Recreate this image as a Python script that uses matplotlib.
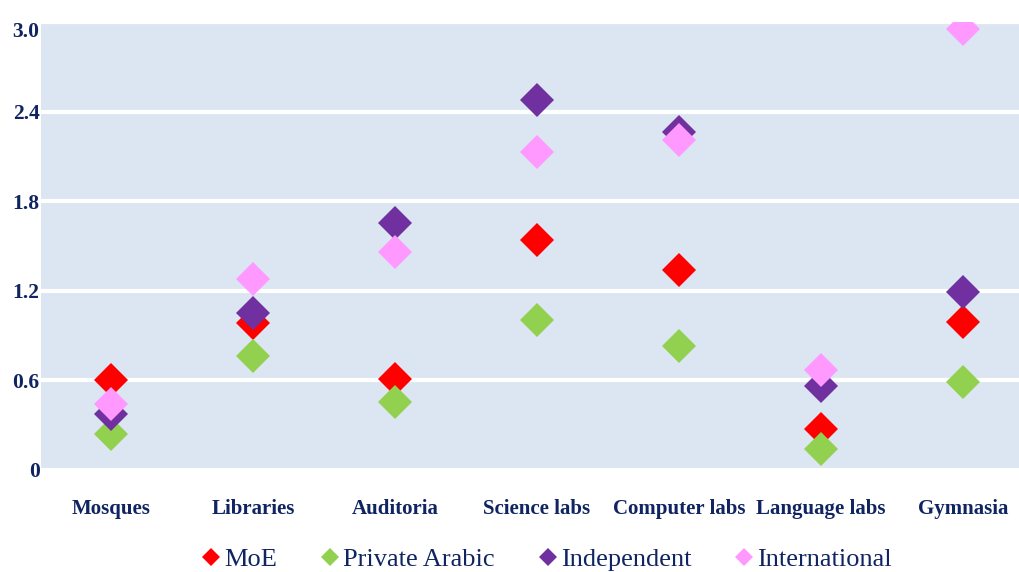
import matplotlib.pyplot as plt

categories = ['Mosques', 'Libraries', 'Auditoria', 'Science labs',
              'Computer labs', 'Language labs', 'Gymnasia']

moe = [0.60, 0.98, 0.61, 1.54, 1.34, 0.27, 0.99]
private_arabic = [0.24, 0.76, 0.45, 1.00, 0.83, 0.14, 0.59]
independent = [0.37, 1.05, 1.65, 2.48, 2.26, 0.56, 1.19]
international = [0.44, 1.28, 1.46, 2.13, 2.21, 0.67, 2.95]

series = [('MoE', moe, '#FF0000'),
          ('Private Arabic', private_arabic, '#92D050'),
          ('Independent', independent, '#7030A0'),
          ('International', international, '#FF99FF')]

navy = '#0F2461'
plt.rcParams['font.family'] = ['Liberation Serif', 'DejaVu Serif']

fig = plt.figure(figsize=(10.19, 5.72), dpi=100)
ax = fig.add_axes([0.0402, 0.179, 0.9598, 0.7825])
ax.set_facecolor('#DCE6F2')

x = list(range(len(categories)))
for name, vals, col in series:
    ax.plot(x, vals, linestyle='none', marker='D', markersize=17,
            color=col, markeredgewidth=0, label=name)

ax.set_ylim(0, 3.0)
ax.set_xlim(-0.493, 6.394)
ax.set_yticks([0, 0.6, 1.2, 1.8, 2.4, 3.0])
ax.set_yticklabels(['0', '0.6', '1.2', '1.8', '2.4', '3.0'])
ax.set_xticks(x)
ax.set_xticklabels(categories)
ax.grid(axis='y', color='white', linewidth=3)
ax.set_axisbelow(True)
for s in ax.spines.values():
    s.set_visible(False)
ax.tick_params(length=0)
ax.tick_params(axis='y', pad=1)
ax.tick_params(axis='x', pad=21)
for lab in ax.get_yticklabels():
    lab.set_fontsize(15.5)
    lab.set_fontweight('bold')
    lab.set_color(navy)
ylabs = ax.get_yticklabels()
ylabs[-1].set_va('top')
for lab in ax.get_xticklabels():
    lab.set_fontsize(15)
    lab.set_fontweight('bold')
    lab.set_color(navy)

leg = fig.legend(loc='lower center', bbox_to_anchor=(0.535, -0.04), ncol=4,
                 frameon=False, fontsize=19, handletextpad=0.0,
                 columnspacing=1.5, markerscale=0.55, handlelength=1.0)
for t in leg.get_texts():
    t.set_color(navy)

fig.savefig('out.png', dpi=100)
